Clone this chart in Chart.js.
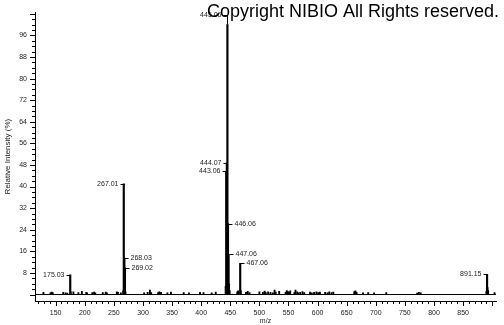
<!DOCTYPE html>
<html>
<head>
<meta charset="utf-8">
<script src="https://cdn.jsdelivr.net/npm/chart.js@4.4.1/dist/chart.umd.min.js"></script>
<style>
body { margin: 0; background: #fff; }
#wrap { position: relative; width: 504px; height: 325px; }
</style>
</head>
<body>
<div id="wrap"><canvas id="spectrum" width="504" height="325"></canvas></div>
<script>
// labelled peaks (m/z, relative intensity %)
const peakMz = [175.03, 267.01, 268.03, 269.02, 443.06, 444.07, 445.06, 446.06, 447.06, 467.06, 891.15];
const peakIntensity = [7.3, 41.0, 13.5, 9.9, 45.6, 48.8, 100, 26.3, 14.9, 11.6, 7.5];
const peakLabelSide = ['left', 'left', 'right', 'right', 'left', 'left', 'left', 'right', 'right', 'right', 'left'];
const peakLabelLevel = [7.3, 41.0, 13.5, 9.9, 45.6, 48.8, 103.6, 26.3, 14.9, 11.6, 7.5];

// small unlabelled peaks along the baseline
const noiseMz = [129, 141, 143, 145, 163, 167, 170, 176, 180.5, 189, 195, 202.5, 204, 213, 216, 218,
  231, 236, 238, 255, 257, 262, 266, 270, 302, 308, 312, 314, 326, 328, 331, 342, 348, 370, 379,
  398, 404, 418, 425, 442, 448, 449, 462, 463.5, 468, 477, 480, 483, 500, 506, 509, 511, 515, 519,
  523, 526, 528, 534, 545, 547, 549, 551, 553, 560, 562, 565, 567, 570, 574, 577, 587, 590, 594,
  598, 601, 604, 613, 617, 620, 624, 627, 663, 665, 667, 678, 687, 697, 718, 771, 774, 777, 890,
  892, 893, 904];
const noiseIntensity = [0.8, 0.6, 0.9, 0.7, 0.8, 0.6, 0.5, 1.0, 1.0, 0.7, 1.2, 0.8, 0.6, 0.7, 0.9, 0.6,
  0.7, 0.9, 0.6, 1.0, 0.8, 0.6, 1.4, 1.0, 0.6, 0.8, 1.6, 0.7, 0.7, 1.0, 0.8, 0.6, 0.9, 0.7, 0.6,
  0.8, 0.7, 0.6, 0.9, 3.0, 4.0, 1.5, 1.0, 1.4, 1.5, 0.8, 1.2, 0.7, 1.0, 0.8, 1.3, 0.7, 1.0, 0.8,
  0.6, 1.6, 0.9, 1.2, 0.8, 1.5, 1.1, 0.9, 1.4, 0.7, 1.6, 1.0, 0.6, 0.8, 1.1, 0.7, 0.9, 0.6, 0.8,
  1.0, 0.7, 0.9, 0.8, 0.6, 1.0, 0.7, 0.9, 1.1, 1.4, 0.8, 0.6, 0.7, 0.6, 0.7, 0.5, 0.8, 0.6, 1.2,
  2.6, 1.5, 0.7];

const xTickLabels = [150, 200, 250, 300, 350, 400, 450, 500, 550, 600, 650, 700, 750, 800, 850];
const yTickLabels = [8, 16, 24, 32, 40, 48, 56, 64, 72, 80, 88, 96];

const xMin = 114.5, xMax = 906.5;
const yMin = -2.4, yMax = 104.6;

const smallFont = '"Liberation Sans", Arial, sans-serif';

// minor/major tick marks on both axes
const tickMarks = {
    id: 'tickMarks',
    afterDraw(chart) {
        const {ctx, chartArea, scales: {x, y}} = chart;
        ctx.save();
        ctx.strokeStyle = '#000';
        ctx.lineWidth = 1;
        ctx.beginPath();
        for (let v = 0; v <= 104; v += 2) {
            const py = Math.round(y.getPixelForValue(v)) + 0.5;
            const len = v % 8 === 0 ? 5 : 3;
            ctx.moveTo(chartArea.left - len, py);
            ctx.lineTo(chartArea.left, py);
        }
        for (let v = 120; v <= 900; v += 10) {
            const px = Math.round(x.getPixelForValue(v)) + 0.5;
            const len = v % 50 === 0 ? 5 : 3;
            ctx.moveTo(px, chartArea.bottom);
            ctx.lineTo(px, chartArea.bottom + len);
        }
        ctx.stroke();
        ctx.restore();
    }
};

// peak labels with their little connectors, then the copyright line on top
const peakLabels = {
    id: 'peakLabels',
    afterDraw(chart) {
        const {ctx, scales: {x, y}} = chart;
        ctx.save();
        ctx.strokeStyle = '#000';
        ctx.lineWidth = 1;
        ctx.fillStyle = '#222';
        ctx.font = '7px ' + smallFont;
        ctx.textBaseline = 'middle';
        peakMz.forEach((mz, i) => {
            const px = Math.round(x.getPixelForValue(mz)) + 0.5;
            const top = y.getPixelForValue(peakIntensity[i]);
            const ly = Math.round(y.getPixelForValue(peakLabelLevel[i])) + 0.5;
            ctx.beginPath();
            if (ly < top - 1) {
                ctx.moveTo(px, top);
                ctx.lineTo(px, ly);
            }
            if (peakLabelSide[i] === 'left') {
                ctx.moveTo(px, ly);
                ctx.lineTo(px - 4, ly);
                ctx.textAlign = 'right';
                ctx.fillText(mz.toFixed(2), px - 6, ly);
            } else {
                ctx.moveTo(px, ly);
                ctx.lineTo(px + 4, ly);
                ctx.textAlign = 'left';
                ctx.fillText(mz.toFixed(2), px + 6, ly);
            }
            ctx.stroke();
        });

        ctx.fillStyle = '#000';
        ctx.font = '18px ' + smallFont;
        ctx.textAlign = 'left';
        ctx.textBaseline = 'alphabetic';
        ctx.fillText('Copyright NIBIO All Rights reserved.', 207, 17);
        ctx.restore();
    }
};

const ctx = document.getElementById('spectrum').getContext('2d');
new Chart(ctx, {
    type: 'bar',
    data: {
        datasets: [
            {
                type: 'line',
                data: [{x: xMin, y: 0}, {x: xMax, y: 0}],
                borderColor: '#000',
                borderWidth: 1,
                pointRadius: 0
            },
            {
                data: peakMz.map((mz, i) => ({x: mz, y: peakIntensity[i]})),
                backgroundColor: '#000',
                barThickness: 1.5,
                grouped: false
            },
            {
                data: noiseMz.map((mz, i) => ({x: mz, y: noiseIntensity[i]})),
                backgroundColor: '#000',
                barThickness: 1.2,
                grouped: false
            }
        ]
    },
    options: {
        responsive: false,
        animation: false,
        layout: { padding: { top: 1, right: 1, left: 0, bottom: 0 } },
        plugins: {
            legend: { display: false },
            tooltip: { enabled: false }
        },
        scales: {
            x: {
                type: 'linear',
                min: xMin,
                max: xMax,
                offset: false,
                grid: { display: false, drawTicks: false },
                border: { display: true, color: '#000', width: 1 },
                ticks: {
                    stepSize: 10,
                    autoSkip: false,
                    maxRotation: 0,
                    minRotation: 0,
                    padding: 8,
                    color: '#222',
                    font: { family: smallFont, size: 7 },
                    callback: (v) => xTickLabels.includes(v) ? String(v) : ''
                },
                title: {
                    display: true,
                    text: 'm/z',
                    color: '#222',
                    font: { family: smallFont, size: 7 },
                    padding: { top: 0, bottom: 0 }
                },
                afterFit: (scale) => { scale.height = 24; }
            },
            y: {
                min: yMin,
                max: yMax,
                grid: { display: false, drawTicks: false },
                border: { display: true, color: '#000', width: 1 },
                ticks: {
                    stepSize: 2,
                    autoSkip: false,
                    padding: 8,
                    color: '#222',
                    font: { family: smallFont, size: 7 },
                    callback: (v) => yTickLabels.includes(v) ? String(v) : ''
                },
                title: {
                    display: true,
                    text: 'Relative Intensity (%)',
                    color: '#222',
                    font: { family: smallFont, size: 8 },
                    padding: { top: 3, bottom: 0 }
                },
                afterFit: (scale) => { scale.width = 35; }
            }
        }
    },
    plugins: [tickMarks, peakLabels]
});
</script>
</body>
</html>
